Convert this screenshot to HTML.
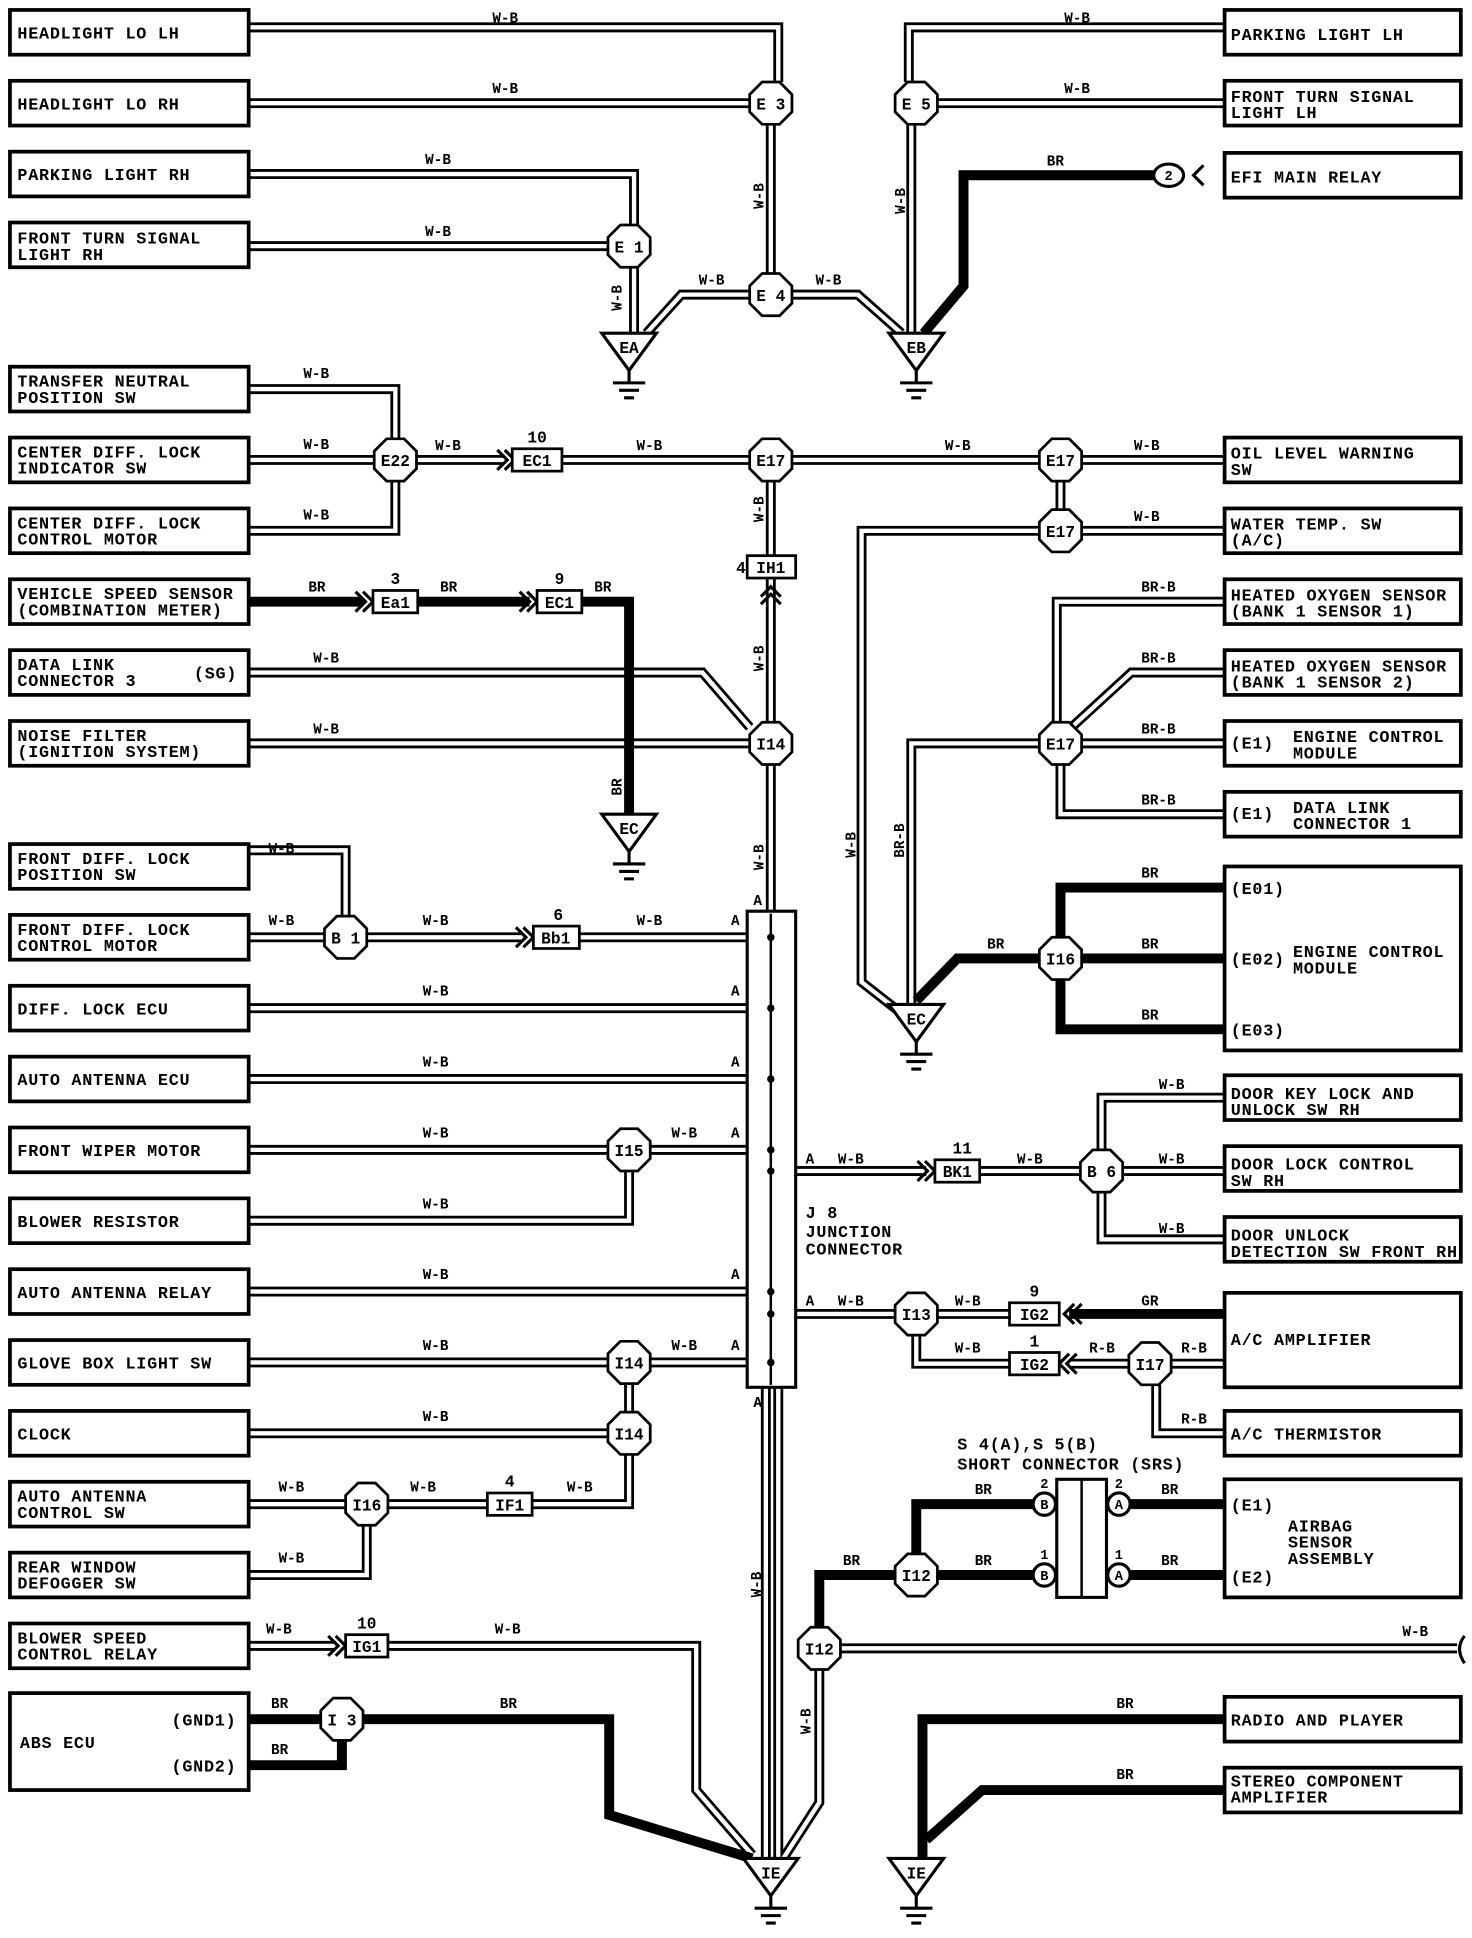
<!DOCTYPE html>
<html><head><meta charset="utf-8"><style>
html,body{margin:0;padding:0;background:#fff}
svg{display:block}
text{font-family:"Liberation Mono",monospace;font-weight:bold;fill:#000}
.bx{fill:#fff;stroke:#000;stroke-width:3}
.t{font-size:13.5px;letter-spacing:0.6px}
.l{font-size:11.5px}
.n{font-size:13px;text-anchor:middle}
.oc{fill:#fff;stroke:#000;stroke-width:2.2}
</style></head><body>
<svg width="1472" height="1938" viewBox="0 0 1184 1559" preserveAspectRatio="none" xmlns="http://www.w3.org/2000/svg">
<defs>
<polygon id="oct" points="-7,-17 7,-17 17,-7 17,7 7,17 -7,17 -17,7 -17,-7"/>
<g id="wb" fill="none">
<path d="M200,22 H626 V66"/>
<path d="M200,83 H603"/>
<path d="M620,100 V220"/>
<path d="M985,22 H731 V66"/>
<path d="M985,83 H754"/>
<path d="M733,100 V268"/>
<path d="M200,140 H510 V181"/>
<path d="M200,198 H489"/>
<path d="M510,215 V268"/>
<path d="M603,237 H548 L520,268"/>
<path d="M637,237 H690 L725,268"/>
<path d="M200,313 H318 V353"/>
<path d="M200,370 H301"/>
<path d="M200,427 H318 V387"/>
<path d="M335,370 H405"/>
<path d="M452,370 H603"/>
<path d="M637,370 H836"/>
<path d="M870,370 H985"/>
<path d="M853,387 V410"/>
<path d="M870,427 H985"/>
<path d="M836,427 H693 V790 L725,815"/>
<path d="M620,387 V446"/>
<path d="M620,466 V581"/>
<path d="M200,541 H565 L603,585"/>
<path d="M200,598 H603"/>
<path d="M620,615 V733"/>
<path d="M200,684 H278 V737"/>
<path d="M200,754 H261"/>
<path d="M295,754 H420"/>
<path d="M466,754 H601"/>
<path d="M200,811 H601"/>
<path d="M200,868 H601"/>
<path d="M200,925 H489"/>
<path d="M523,925 H601"/>
<path d="M200,982 H506 V942"/>
<path d="M200,1039 H601"/>
<path d="M200,1096 H489"/>
<path d="M523,1096 H601"/>
<path d="M200,1153 H489"/>
<path d="M506,1136 V1113"/>
<path d="M428,1210 H506 V1170"/>
<path d="M200,1210 H278"/>
<path d="M312,1210 H392"/>
<path d="M200,1267 H295 V1227"/>
<path d="M200,1324 H270"/>
<path d="M312,1324 H560 V1440 L605,1492"/>
<path d="M616,1116 V1495"/>
<path d="M626,1116 V1495"/>
<path d="M640,942 H745"/>
<path d="M788,942 H869"/>
<path d="M886,925 V883 H985"/>
<path d="M903,942 H985"/>
<path d="M886,959 V997 H985"/>
<path d="M640,1057 H720"/>
<path d="M754,1057 H812"/>
<path d="M737,1074 V1097 H812"/>
<path d="M676,1326 H1172"/>
<path d="M659,1343 V1450 L630,1495"/>
<path d="M985,484 H850 V581"/>
<path d="M985,541 H910 L862,585"/>
<path d="M985,598 H870"/>
<path d="M985,655 H853 V615"/>
<path d="M836,598 H733 V808"/>
<path d="M942,1097 H985"/>
<path d="M908,1097 H860"/>
<path d="M930,1114 V1153 H985"/>
</g>
</defs>
<use href="#wb" stroke="#000" stroke-width="8"/>
<use href="#wb" stroke="#fff" stroke-width="3.5"/>
<g fill="none" stroke="#000" stroke-width="8">
<path d="M928,141 H775 V230 L743,268"/>
<path d="M200,484 H292"/><path d="M336,484 H426"/><path d="M468,484 H506 V655"/>
<path d="M737,805 L770,771 H836"/>
<path d="M853,754 V714 H985"/><path d="M870,771 H985"/><path d="M853,788 V828 H985"/>
<path d="M985,1057 H860"/>
<path d="M737,1250 V1210 H832"/><path d="M898,1210 H985"/>
<path d="M754,1267 H832"/><path d="M898,1267 H985"/>
<path d="M720,1267 H659 V1309"/>
<path d="M200,1383 H258"/><path d="M200,1420 H275 V1400"/>
<path d="M292,1383 H490 V1460 L605,1495"/>
<path d="M985,1383 H742 V1495"/><path d="M985,1440 H790 L745,1480"/>
</g>
<g fill="none" stroke="#000" stroke-width="2.5">
<path d="M400,362 L408,370 L400,378 M406,362 L414,370 L406,378"/>
<path d="M286,476 L294,484 L286,492 M292,476 L300,484 L292,492"/>
<path d="M418,476 L426,484 L418,492 M424,476 L432,484 L424,492"/>
<path d="M612,486 L620,478 L628,486 M612,480 L620,472 L628,480"/>
<path d="M415,746 L423,754 L415,762 M421,746 L429,754 L421,762"/>
<path d="M738,934 L746,942 L738,950 M744,934 L752,942 L744,950"/>
<path d="M264,1316 L272,1324 L264,1332 M270,1316 L278,1324 L270,1332"/>
<path d="M870,1049 L862,1057 L870,1065 M864,1049 L856,1057 L864,1065"/>
<path d="M866,1089 L858,1097 L866,1105 M860,1089 L852,1097 L860,1105"/>
<path d="M968,133 L960,141 L968,149"/>
</g>
<g class="bx">
<rect x="8" y="8" width="192" height="36"/><rect x="8" y="65" width="192" height="36"/>
<rect x="8" y="122" width="192" height="36"/><rect x="8" y="179" width="192" height="36"/>
<rect x="8" y="295" width="192" height="36"/><rect x="8" y="352" width="192" height="36"/>
<rect x="8" y="409" width="192" height="36"/><rect x="8" y="466" width="192" height="36"/>
<rect x="8" y="523" width="192" height="36"/><rect x="8" y="580" width="192" height="36"/>
<rect x="8" y="679" width="192" height="36"/><rect x="8" y="736" width="192" height="36"/>
<rect x="8" y="793" width="192" height="36"/><rect x="8" y="850" width="192" height="36"/>
<rect x="8" y="907" width="192" height="36"/><rect x="8" y="964" width="192" height="36"/>
<rect x="8" y="1021" width="192" height="36"/><rect x="8" y="1078" width="192" height="36"/>
<rect x="8" y="1135" width="192" height="36"/><rect x="8" y="1192" width="192" height="36"/>
<rect x="8" y="1249" width="192" height="36"/><rect x="8" y="1306" width="192" height="36"/>
<rect x="8" y="1362" width="192" height="78"/>
<rect x="985" y="8" width="190" height="36"/><rect x="985" y="65" width="190" height="36"/>
<rect x="985" y="123" width="190" height="36"/><rect x="985" y="352" width="190" height="36"/>
<rect x="985" y="409" width="190" height="36"/><rect x="985" y="466" width="190" height="36"/>
<rect x="985" y="523" width="190" height="36"/><rect x="985" y="580" width="190" height="36"/>
<rect x="985" y="637" width="190" height="36"/><rect x="985" y="697" width="190" height="148"/>
<rect x="985" y="865" width="190" height="36"/><rect x="985" y="922" width="190" height="36"/>
<rect x="985" y="979" width="190" height="36"/><rect x="985" y="1040" width="190" height="76"/>
<rect x="985" y="1135" width="190" height="36"/><rect x="985" y="1190" width="190" height="95"/>
<rect x="985" y="1365" width="190" height="36"/><rect x="985" y="1422" width="190" height="36"/>
</g>
<g class="t">
<text x="14" y="31">HEADLIGHT LO LH</text>
<text x="14" y="88">HEADLIGHT LO RH</text>
<text x="14" y="145">PARKING LIGHT RH</text>
<text x="14" y="196">FRONT TURN SIGNAL</text><text x="14" y="209">LIGHT RH</text>
<text x="14" y="311">TRANSFER NEUTRAL</text><text x="14" y="324">POSITION SW</text>
<text x="14" y="368">CENTER DIFF. LOCK</text><text x="14" y="381">INDICATOR SW</text>
<text x="14" y="425">CENTER DIFF. LOCK</text><text x="14" y="438">CONTROL MOTOR</text>
<text x="14" y="482">VEHICLE SPEED SENSOR</text><text x="14" y="495">(COMBINATION METER)</text>
<text x="14" y="539">DATA LINK</text><text x="14" y="552">CONNECTOR 3</text><text x="156" y="546">(SG)</text>
<text x="14" y="596">NOISE FILTER</text><text x="14" y="609">(IGNITION SYSTEM)</text>
<text x="14" y="695">FRONT DIFF. LOCK</text><text x="14" y="708">POSITION SW</text>
<text x="14" y="752">FRONT DIFF. LOCK</text><text x="14" y="765">CONTROL MOTOR</text>
<text x="14" y="816">DIFF. LOCK ECU</text>
<text x="14" y="873">AUTO ANTENNA ECU</text>
<text x="14" y="930">FRONT WIPER MOTOR</text>
<text x="14" y="987">BLOWER RESISTOR</text>
<text x="14" y="1044">AUTO ANTENNA RELAY</text>
<text x="14" y="1101">GLOVE BOX LIGHT SW</text>
<text x="14" y="1158">CLOCK</text>
<text x="14" y="1208">AUTO ANTENNA</text><text x="14" y="1221">CONTROL SW</text>
<text x="14" y="1265">REAR WINDOW</text><text x="14" y="1278">DEFOGGER SW</text>
<text x="14" y="1322">BLOWER SPEED</text><text x="14" y="1335">CONTROL RELAY</text>
<text x="16" y="1406">ABS ECU</text><text x="138" y="1388">(GND1)</text><text x="138" y="1425">(GND2)</text>
<text x="990" y="32">PARKING LIGHT LH</text>
<text x="990" y="82">FRONT TURN SIGNAL</text><text x="990" y="95">LIGHT LH</text>
<text x="990" y="147">EFI MAIN RELAY</text>
<text x="990" y="369">OIL LEVEL WARNING</text><text x="990" y="382">SW</text>
<text x="990" y="426">WATER TEMP. SW</text><text x="990" y="439">(A/C)</text>
<text x="990" y="483">HEATED OXYGEN SENSOR</text><text x="990" y="496">(BANK 1 SENSOR 1)</text>
<text x="990" y="540">HEATED OXYGEN SENSOR</text><text x="990" y="553">(BANK 1 SENSOR 2)</text>
<text x="990" y="602">(E1)</text><text x="1040" y="597">ENGINE CONTROL</text><text x="1040" y="610">MODULE</text>
<text x="990" y="659">(E1)</text><text x="1040" y="654">DATA LINK</text><text x="1040" y="667">CONNECTOR 1</text>
<text x="990" y="719">(E01)</text><text x="990" y="776">(E02)</text><text x="1040" y="770">ENGINE CONTROL</text><text x="1040" y="783">MODULE</text><text x="990" y="833">(E03)</text>
<text x="990" y="884">DOOR KEY LOCK AND</text><text x="990" y="897">UNLOCK SW RH</text>
<text x="990" y="941">DOOR LOCK CONTROL</text><text x="990" y="954">SW RH</text>
<text x="990" y="998">DOOR UNLOCK</text><text x="990" y="1011">DETECTION SW FRONT RH</text>
<text x="990" y="1082">A/C AMPLIFIER</text>
<text x="990" y="1158">A/C THERMISTOR</text>
<text x="990" y="1215">(E1)</text><text x="990" y="1273">(E2)</text>
<text x="1036" y="1232">AIRBAG</text><text x="1036" y="1245">SENSOR</text><text x="1036" y="1258">ASSEMBLY</text>
<text x="990" y="1388">RADIO AND PLAYER</text>
<text x="990" y="1437">STEREO COMPONENT</text><text x="990" y="1450">AMPLIFIER</text>
<text x="648" y="980">J 8</text><text x="648" y="995">JUNCTION</text><text x="648" y="1009">CONNECTOR</text>
<text x="770" y="1166">S 4(A),S 5(B)</text><text x="770" y="1182">SHORT CONNECTOR (SRS)</text>
</g>
<rect x="601" y="733" width="39" height="383" fill="#fff" stroke="#000" stroke-width="2.5"/>
<path d="M620,735 V1114" stroke="#000" stroke-width="2"/>
<g fill="#000">
<circle cx="620" cy="754" r="3"/><circle cx="620" cy="811" r="3"/><circle cx="620" cy="868" r="3"/><circle cx="620" cy="925" r="3"/><circle cx="620" cy="942" r="3"/><circle cx="620" cy="1039" r="3"/><circle cx="620" cy="1057" r="3"/><circle cx="620" cy="1096" r="3"/>
</g>
<rect x="850" y="1190" width="40" height="95" fill="#fff" stroke="#000" stroke-width="2.5"/>
<path d="M870,1190 V1285" stroke="#000" stroke-width="2"/>
<g fill="#fff" stroke="#000" stroke-width="2.5">
<circle cx="840" cy="1210" r="9"/><circle cx="840" cy="1267" r="9"/><circle cx="900" cy="1210" r="9"/><circle cx="900" cy="1267" r="9"/>
<ellipse cx="940" cy="141" rx="12" ry="9"/>
</g>
<g class="n" style="font-size:11px">
<text x="840" y="1214">B</text><text x="840" y="1271">B</text><text x="900" y="1214">A</text><text x="900" y="1271">A</text><text x="940" y="145">2</text>
<text x="840" y="1197">2</text><text x="840" y="1254">1</text><text x="900" y="1197">2</text><text x="900" y="1254">1</text>
</g>
<g class="bx" style="stroke-width:2.2">
<rect x="412" y="361" width="40" height="18"/><rect x="300" y="475" width="36" height="18"/><rect x="432" y="475" width="36" height="18"/>
<rect x="601" y="447" width="39" height="18"/><rect x="429" y="745" width="37" height="18"/><rect x="752" y="933" width="36" height="18"/>
<rect x="812" y="1048" width="40" height="18"/><rect x="812" y="1088" width="40" height="18"/><rect x="392" y="1201" width="36" height="18"/><rect x="278" y="1315" width="34" height="18"/>
</g>
<g class="n">
<text x="432" y="375">EC1</text><text x="318" y="489">Ea1</text><text x="450" y="489">EC1</text><text x="620" y="461">IH1</text><text x="447" y="759">Bb1</text><text x="770" y="947">BK1</text>
<text x="832" y="1062">IG2</text><text x="832" y="1102">IG2</text><text x="410" y="1215">IF1</text><text x="295" y="1329">IG1</text>
<text x="432" y="356">10</text><text x="318" y="470">3</text><text x="450" y="470">9</text><text x="596" y="461">4</text><text x="449" y="740">6</text><text x="774" y="928">11</text><text x="832" y="1043">9</text><text x="832" y="1083">1</text><text x="410" y="1196">4</text><text x="295" y="1310">10</text>
</g>
<g class="oc">
<use href="#oct" x="620" y="83"/><use href="#oct" x="737" y="83"/><use href="#oct" x="506" y="198"/><use href="#oct" x="620" y="237"/>
<use href="#oct" x="318" y="370"/><use href="#oct" x="620" y="370"/><use href="#oct" x="853" y="370"/><use href="#oct" x="853" y="427"/>
<use href="#oct" x="620" y="598"/><use href="#oct" x="853" y="598"/><use href="#oct" x="278" y="754"/><use href="#oct" x="853" y="771"/>
<use href="#oct" x="506" y="925"/><use href="#oct" x="886" y="942"/><use href="#oct" x="737" y="1057"/><use href="#oct" x="925" y="1097"/>
<use href="#oct" x="506" y="1096"/><use href="#oct" x="506" y="1153"/><use href="#oct" x="295" y="1210"/><use href="#oct" x="737" y="1267"/>
<use href="#oct" x="659" y="1326"/><use href="#oct" x="275" y="1383"/>
</g>
<g class="n">
<text x="620" y="88">E 3</text><text x="737" y="88">E 5</text><text x="506" y="203">E 1</text><text x="620" y="242">E 4</text>
<text x="318" y="375">E22</text><text x="620" y="375">E17</text><text x="853" y="375">E17</text><text x="853" y="432">E17</text>
<text x="620" y="603">I14</text><text x="853" y="603">E17</text><text x="278" y="759">B 1</text><text x="853" y="776">I16</text>
<text x="506" y="930">I15</text><text x="886" y="947">B 6</text><text x="737" y="1062">I13</text><text x="925" y="1102">I17</text>
<text x="506" y="1101">I14</text><text x="506" y="1158">I14</text><text x="295" y="1215">I16</text><text x="737" y="1272">I12</text>
<text x="659" y="1331">I12</text><text x="275" y="1388">I 3</text>
</g>
<g fill="#fff" stroke="#000" stroke-width="2.5">
<path d="M484,268 H528 L506,298 Z"/><path d="M715,268 H759 L737,298 Z"/><path d="M484,655 H528 L506,685 Z"/>
<path d="M715,808 H759 L737,838 Z"/><path d="M598,1495 H642 L620,1525 Z"/><path d="M715,1495 H759 L737,1525 Z"/>
</g>
<g stroke="#000" stroke-width="2.5" fill="none">
<path d="M506,298 V308 M493,308 H519 M498,314 H514 M502,320 H510"/>
<path d="M737,298 V308 M724,308 H750 M729,314 H745 M733,320 H741"/>
<path d="M506,685 V695 M493,695 H519 M498,701 H514 M502,707 H510"/>
<path d="M737,838 V848 M724,848 H750 M729,854 H745 M733,860 H741"/>
<path d="M620,1525 V1535 M607,1535 H633 M612,1541 H628 M616,1547 H624"/>
<path d="M737,1525 V1535 M724,1535 H750 M729,1541 H745 M733,1547 H741"/>
<path d="M1178,1316 Q1170,1326 1178,1338"/>
</g>
<g class="n">
<text x="506" y="284">EA</text><text x="737" y="284">EB</text><text x="506" y="671">EC</text><text x="737" y="824">EC</text><text x="620" y="1511">IE</text><text x="737" y="1511">IE</text>
</g>
<g class="l">
<text x="396" y="18">W-B</text><text x="396" y="75">W-B</text><text x="856" y="18">W-B</text><text x="856" y="75">W-B</text>
<text x="342" y="132">W-B</text><text x="342" y="190">W-B</text><text x="842" y="133">BR</text>
<text x="562" y="229">W-B</text><text x="656" y="229">W-B</text>
<text x="244" y="304">W-B</text><text x="244" y="361">W-B</text><text x="244" y="418">W-B</text><text x="350" y="362">W-B</text><text x="512" y="362">W-B</text><text x="760" y="362">W-B</text><text x="912" y="362">W-B</text><text x="912" y="419">W-B</text>
<text x="248" y="476">BR</text><text x="354" y="476">BR</text><text x="478" y="476">BR</text>
<text x="252" y="533">W-B</text><text x="252" y="590">W-B</text>
<text x="918" y="476">BR-B</text><text x="918" y="533">BR-B</text><text x="918" y="590">BR-B</text><text x="918" y="647">BR-B</text>
<text x="216" y="686">W-B</text><text x="216" y="744">W-B</text><text x="340" y="744">W-B</text><text x="512" y="744">W-B</text><text x="588" y="744">A</text>
<text x="340" y="801">W-B</text><text x="588" y="801">A</text><text x="340" y="858">W-B</text><text x="588" y="858">A</text>
<text x="340" y="915">W-B</text><text x="540" y="915">W-B</text><text x="588" y="915">A</text><text x="340" y="972">W-B</text>
<text x="340" y="1029">W-B</text><text x="588" y="1029">A</text><text x="340" y="1086">W-B</text><text x="540" y="1086">W-B</text><text x="588" y="1086">A</text>
<text x="340" y="1143">W-B</text><text x="224" y="1200">W-B</text><text x="330" y="1200">W-B</text><text x="456" y="1200">W-B</text><text x="224" y="1257">W-B</text>
<text x="214" y="1314">W-B</text><text x="398" y="1314">W-B</text><text x="218" y="1374">BR</text><text x="218" y="1411">BR</text><text x="402" y="1374">BR</text>
<text x="648" y="936">A</text><text x="674" y="936">W-B</text><text x="818" y="936">W-B</text><text x="932" y="876">W-B</text><text x="932" y="936">W-B</text><text x="932" y="992">W-B</text>
<text x="648" y="1050">A</text><text x="674" y="1050">W-B</text><text x="768" y="1050">W-B</text><text x="768" y="1088">W-B</text><text x="918" y="1050">GR</text><text x="876" y="1088">R-B</text><text x="950" y="1088">R-B</text><text x="950" y="1145">R-B</text>
<text x="918" y="706">BR</text><text x="794" y="763">BR</text><text x="918" y="763">BR</text><text x="918" y="820">BR</text>
<text x="784" y="1202">BR</text><text x="934" y="1202">BR</text><text x="678" y="1259">BR</text><text x="784" y="1259">BR</text><text x="934" y="1259">BR</text>
<text x="1128" y="1316">W-B</text><text x="898" y="1374">BR</text><text x="898" y="1431">BR</text>
<text x="606" y="728">A</text><text x="606" y="1132">A</text>
</g>
<g class="l">
<text transform="translate(614,168) rotate(-90)">W-B</text><text transform="translate(728,172) rotate(-90)">W-B</text><text transform="translate(500,250) rotate(-90)">W-B</text>
<text transform="translate(614,420) rotate(-90)">W-B</text><text transform="translate(614,540) rotate(-90)">W-B</text><text transform="translate(500,640) rotate(-90)">BR</text>
<text transform="translate(614,700) rotate(-90)">W-B</text><text transform="translate(688,690) rotate(-90)">W-B</text><text transform="translate(727,690) rotate(-90)">BR-B</text>
<text transform="translate(612,1285) rotate(-90)">W-B</text><text transform="translate(652,1395) rotate(-90)">W-B</text>
</g>
</svg>
</body></html>
